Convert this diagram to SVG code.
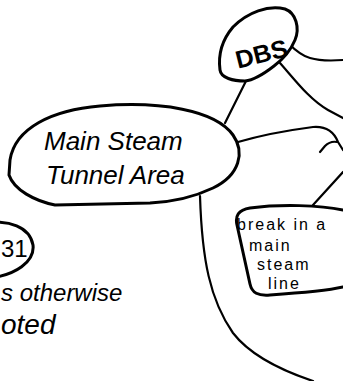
<svg xmlns="http://www.w3.org/2000/svg" width="343" height="381" viewBox="0 0 343 381">
<style>
.node{fill:#fff;stroke:#000;stroke-width:3;stroke-linejoin:round;stroke-linecap:round}
.edge{fill:none;stroke:#000;stroke-width:2.2;stroke-linecap:round;stroke-linejoin:round}
.t{font-family:"Liberation Sans",Arial,sans-serif;fill:#000}
.b{font-size:16px;letter-spacing:2px}
</style>
<rect width="343" height="381" fill="#fff"/>
<g id="connectors">
<path class="edge" d="M288,43 C295,50 302,56 310,58 C320,61 330,61 343,60"/>
<path class="edge" d="M280,63 C295,80 310,100 328,110 L343,118"/>
<path class="edge" d="M246,81 L225,123"/>
<path class="edge" d="M238,142 C262,135 290,130 313,127 C326,126 334,132 338,142 L343,150"/>
<path class="edge" d="M320,152 L325,146 C328,143 332,141 337,142" stroke-width="5"/>
<path class="edge" d="M313,205 L343,172"/>
<path class="edge" d="M200,196 C202,260 210,300 233,333 C250,355 280,370 313,381"/>
</g>
<g id="dbs">
<path class="node" d="M233,27 C248,12 268,5 285,9 C296,13 300,28 295,40 C290,52 282,60 274,66 C265,73 255,80 245,81 C233,81 221,78 220,70 C218,55 222,40 233,27 Z"/>
<text class="t" x="234" y="64" font-size="25" font-weight="bold" transform="rotate(-14 255 50)">DBS</text>
</g>
<g id="main-steam-tunnel">
<path class="node" d="M10,160 C15,128 52,110 100,106 C160,101 215,110 233,135 C245,152 240,175 213,188 C190,199 170,202 150,203 L55,205 C35,201 14,190 9,175 Z"/>
<text class="t" x="44" y="150" font-size="26" font-style="italic">Main Steam</text>
<text class="t" x="46" y="184" font-size="26" font-style="italic">Tunnel Area</text>
</g>
<g id="break">
<path class="node" d="M343,210 C320,205 280,204 250,208 C238,210 235,216 237,225 L250,284 C252,293 258,296 270,295 C300,293 330,290 343,287"/>
<text class="t b" x="237" y="230">break in a</text>
<text class="t b" x="249" y="251">main</text>
<text class="t b" x="257" y="270">steam</text>
<text class="t b" x="268" y="289">line</text>
</g>
<g id="node-31">
<path class="node" d="M-20,224 C10,218 30,228 33,245 C35,262 15,275 -10,278"/>
<text class="t" x="1" y="257" font-size="24">31</text>
</g>
<g id="note">
<text class="t" x="1" y="301" font-size="24" font-style="italic">s otherwise</text>
<text class="t" x="1" y="334" font-size="28" font-style="italic">oted</text>
</g>
</svg>
